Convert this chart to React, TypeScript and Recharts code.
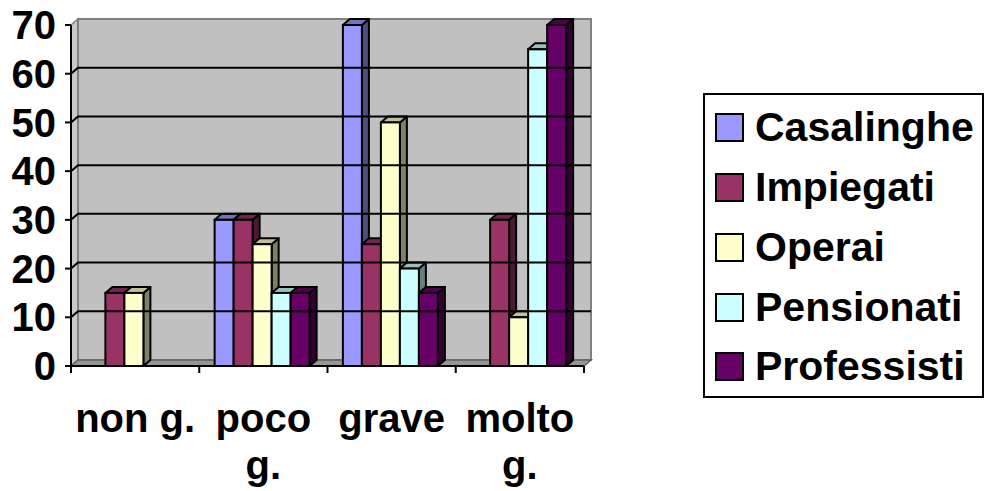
import { BarChart, Bar, XAxis, YAxis, ReferenceArea, ReferenceLine, Legend } from 'recharts';

const categories = ['non g.', 'poco g.', 'grave', 'molto g.'];
const seriesNames = ['Casalinghe', 'Impiegati', 'Operai', 'Pensionati', 'Professisti'];
const casalinghe = [0, 30, 70, 0];
const impiegati = [15, 30, 25, 30];
const operai = [15, 25, 50, 10];
const pensionati = [0, 15, 20, 65];
const professisti = [0, 15, 15, 70];
const colors = ['#9999FF', '#993366', '#FFFFCC', '#CCFFFF', '#660066'];
const yTicks = [0, 10, 20, 30, 40, 50, 60, 70];
const gridValues = [10, 20, 30, 40, 50, 60];

const seriesValues = [casalinghe, impiegati, operai, pensionati, professisti];

const data = categories.map((name, i) => {
  const row: Record<string, string | number> = { name };
  seriesNames.forEach((s, k) => {
    row[s] = seriesValues[k][i];
  });
  return row;
});

const FONT = '"Liberation Sans", Arial, sans-serif';
const DX = 7;
const DY = 6;

function shade(hex: string, f: number) {
  const n = parseInt(hex.slice(1), 16);
  const r = Math.round(((n >> 16) & 255) * f);
  const g = Math.round(((n >> 8) & 255) * f);
  const b = Math.round((n & 255) * f);
  return `rgb(${r},${g},${b})`;
}

let ctx: CanvasRenderingContext2D | null = null;
function textWidth(s: string) {
  if (!ctx) ctx = document.createElement('canvas').getContext('2d');
  if (!ctx) return s.length * 22;
  ctx.font = `700 40px ${FONT}`;
  return ctx.measureText(s).width;
}

// word wrap like excel does for category labels
function wrapLabel(label: string, maxW: number) {
  const words = label.split(' ');
  const lines: string[] = [];
  let cur = '';
  words.forEach((w) => {
    const t = cur ? `${cur} ${w}` : w;
    if (cur && textWidth(t) > maxW) {
      lines.push(cur);
      cur = w;
    } else {
      cur = t;
    }
  });
  lines.push(cur);
  return lines;
}

function Bar3D(props: any) {
  const { x, y, width, height, fill } = props;
  if (!height || height <= 0) return null;
  const side = `${x + width},${y} ${x + width + DX},${y - DY} ${x + width + DX},${y + height - DY} ${x + width},${y + height}`;
  const top = `${x},${y} ${x + DX},${y - DY} ${x + width + DX},${y - DY} ${x + width},${y}`;
  return (
    <g>
      <polygon points={side} fill={shade(fill, 0.5)} stroke="#000" strokeWidth={2} strokeLinejoin="round" />
      <polygon points={top} fill={shade(fill, 0.75)} stroke="#000" strokeWidth={2} strokeLinejoin="round" />
      <rect x={x} y={y} width={width} height={height} fill={fill} stroke="#000" strokeWidth={2} />
    </g>
  );
}

// back wall, side wall and floor of the 3d box
function Walls(props: any) {
  const { x, y, width: w, height: h } = props;
  return (
    <g>
      <polygon
        points={`${x},${y + h} ${x},${y} ${x + DX},${y - DY} ${x + DX},${y + h - DY}`}
        fill="#c8c8c8"
        stroke="#808080"
        strokeWidth={1.5}
      />
      <rect x={x + DX} y={y - DY} width={w} height={h} fill="#c0c0c0" stroke="#808080" strokeWidth={2} />
      <polygon
        points={`${x},${y + h} ${x + w},${y + h} ${x + w + DX},${y + h - DY} ${x + DX},${y + h - DY}`}
        fill="#969696"
        stroke="#606060"
        strokeWidth={1.5}
      />
    </g>
  );
}

function GridLine(props: any) {
  const { x1, y1, x2 } = props;
  return (
    <polyline
      points={`${x1},${y1} ${x1 + DX},${y1 - DY} ${x2 + DX},${y1 - DY}`}
      fill="none"
      stroke="#000"
      strokeWidth={2}
    />
  );
}

function XTick(props: any) {
  const { x, y, payload, index } = props;
  const half = payload.offset || 64;
  const last = index === categories.length - 1;
  const lines = wrapLabel(String(payload.value), 2 * half);
  return (
    <g>
      <line x1={x - half} y1={y} x2={x - half} y2={y + 7} stroke="#000" strokeWidth={2} />
      {last && <line x1={x + half} y1={y} x2={x + half} y2={y + 7} stroke="#000" strokeWidth={2} />}
      <text x={x} y={y + 66} textAnchor="middle" fill="#000" fontSize={40} fontWeight={700} fontFamily={FONT}>
        {lines.map((l, i) => (
          <tspan key={i} x={x} dy={i === 0 ? 0 : 47}>
            {l}
          </tspan>
        ))}
      </text>
    </g>
  );
}

function LegendBox(props: any) {
  const { payload = [] } = props;
  return (
    <div
      style={{
        width: 281,
        height: 305,
        boxSizing: 'border-box',
        border: '2px solid #000',
        background: '#fff',
        paddingTop: 3,
      }}
    >
      {payload.map((p: any) => (
        <div key={p.value} style={{ display: 'flex', alignItems: 'center', height: 59.75 }}>
          <span
            style={{
              display: 'inline-block',
              width: 29,
              height: 29,
              boxSizing: 'border-box',
              border: '2px solid #000',
              background: p.color,
              marginLeft: 10,
              marginRight: 11,
            }}
          />
          <span style={{ fontFamily: FONT, fontWeight: 700, fontSize: 41, color: '#000', lineHeight: 1 }}>{p.value}</span>
        </div>
      ))}
    </div>
  );
}

export default function App() {
  return (
    <div style={{ position: 'absolute', left: 0, top: 0, width: 986, height: 491, background: '#fff' }}>
      <BarChart
        width={986}
        height={491}
        data={data}
        margin={{ top: 25, right: 402, bottom: 0, left: 0 }}
        barGap={0}
        barCategoryGap="12%"
      >
        <ReferenceArea y1={0} y2={70} shape={Walls} ifOverflow="visible" />
        {gridValues.map((v) => (
          <ReferenceLine key={v} y={v} shape={GridLine} ifOverflow="visible" />
        ))}
        <XAxis
          dataKey="name"
          height={125}
          interval={0}
          tickLine={false}
          tickSize={0}
          tickMargin={0}
          axisLine={{ stroke: '#000', strokeWidth: 2 }}
          tick={<XTick />}
        />
        <YAxis
          domain={[0, 70]}
          ticks={yTicks}
          interval={0}
          width={71}
          tickSize={6}
          tickMargin={9}
          axisLine={{ stroke: '#000', strokeWidth: 2 }}
          tickLine={{ stroke: '#000', strokeWidth: 2 }}
          tick={{ fontSize: 40, fontWeight: 700, fill: '#000', fontFamily: FONT }}
        />
        {seriesNames.map((s, k) => (
          <Bar key={s} dataKey={s} fill={colors[k]} shape={Bar3D} isAnimationActive={false} legendType="square" />
        ))}
        <Legend
          layout="vertical"
          align="center"
          verticalAlign="middle"
          content={LegendBox}
          wrapperStyle={{ left: 703, top: 93, width: 281 }}
        />
      </BarChart>
    </div>
  );
}
